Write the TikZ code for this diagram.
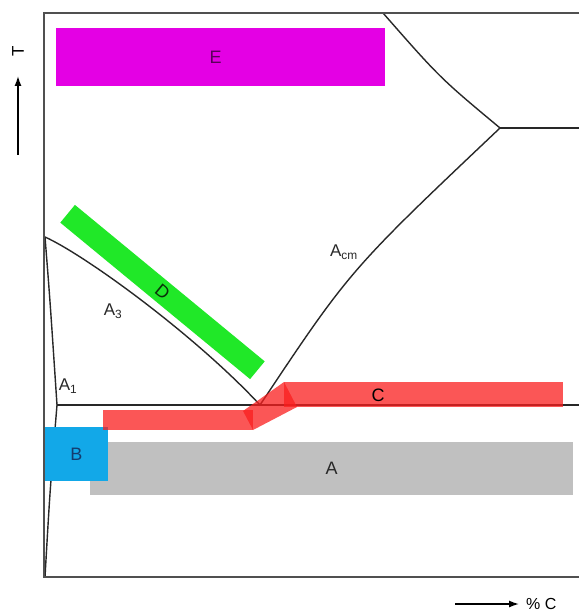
\documentclass[tikz,border=0pt]{standalone}
\usepackage{fontspec}
\setmainfont{Liberation Sans}
\usetikzlibrary{arrows.meta}
\definecolor{barE}{RGB}{228,0,228}
\definecolor{barD}{RGB}{32,232,40}
\definecolor{barC}{RGB}{250,30,30}
\definecolor{barB}{RGB}{18,168,232}
\definecolor{barA}{RGB}{192,192,192}
\definecolor{lineC}{RGB}{40,40,40}
\definecolor{frameC}{RGB}{80,80,80}
\tikzset{
  phase/.style={draw=lineC, line width=1.4pt},
  frameline/.style={draw=frameC, line width=2pt},
  barbox/.style={draw=none, inner sep=0pt, font=\fontsize{18}{18}\selectfont},
  redpart/.style={fill=barC, fill opacity=0.75, draw=none},
  lbl/.style={inner sep=0pt, font=\fontsize{17}{17}\selectfont, text=lineC},
  axisarrow/.style={draw=black, line width=1.4pt, -{Latex[length=10pt,width=7pt]}}
}
\begin{document}
\begin{tikzpicture}[x=1pt,y=-1pt]
\useasboundingbox (0,0) rectangle (579,612);

% key points of the phase boundaries
\coordinate (gtop) at (45,237);
\coordinate (pmax) at (57,405);
\coordinate (obot) at (45,577);
\coordinate (eut) at (260,405);
\coordinate (ecm) at (500,128);
\coordinate (ttop) at (383,13);
\coordinate (rEnd) at (579,405);
\coordinate (rEcm) at (579,128);

% phase boundaries
\draw[phase] (gtop) .. controls (50,300) .. (pmax) .. controls (50,490) .. (obot);
\draw[phase] (gtop) .. controls (85,255) and (195,335) .. (eut);
\draw[phase] (eut) .. controls (350,270) .. (ecm);
\draw[phase] (ecm) .. controls (440,78) .. (ttop);
\draw[phase] (ecm) -- (rEcm);
\draw[phase] (pmax) -- (rEnd);

% heat-treatment bands
\node[barbox, fill=barA, minimum width=483pt, minimum height=53pt, text=lineC] (A) at (331.5,468.5) {A};
\node[barbox, fill=barB, minimum width=63pt, minimum height=54pt, text={rgb,255:red,20;green,60;blue,110}] (B) at (76.5,454) {B};

% frame of the diagram
\coordinate (fTL) at (44,13);
\coordinate (fBL) at (44,577);
\coordinate (fTR) at (579,13);
\coordinate (fBR) at (579,577);
\draw[frameline] (fTR) -- (fTL) -- (fBL) -- (fBR);

\node[barbox, fill=barE, minimum width=329pt, minimum height=58pt, text={rgb,255:red,90;green,0;blue,90}] (E) at (220.5,57) {\hspace*{-10pt}E};
\node[barbox, fill=barD, minimum width=246pt, minimum height=23pt, rotate=-39.5, text={rgb,255:red,10;green,50;blue,10}] (D) at (162.5,292) {D};

% band C: three overlapping translucent pieces
\fill[redpart] (103,410) rectangle (253,430);
\fill[redpart] (243,411) -- (284,382) -- (297,407) -- (253,430) -- cycle;
\fill[redpart] (284,382) rectangle (563,407);
\node[barbox, text=black] (C) at (378,395) {C};

% boundary labels
\node[lbl] (A3) at (113,311) {A\textsubscript{3}};
\node[lbl] (A1) at (68,386) {A\textsubscript{1}};
\node[lbl] (Acm) at (344,252) {A\textsubscript{cm}};

% axes
\coordinate (tS) at (18,155);
\coordinate (tE) at (18,76);
\draw[axisarrow] (tS) -- (tE);
\node[lbl, rotate=90, text=black] (T) at (18,51) {T};
\coordinate (cS) at (455,604);
\coordinate (cE) at (519,604);
\draw[axisarrow] (cS) -- (cE);
\node[lbl, text=black, anchor=west, font=\fontsize{16}{16}\selectfont] (pc) at (526,604) {\% C};
\end{tikzpicture}
\end{document}
